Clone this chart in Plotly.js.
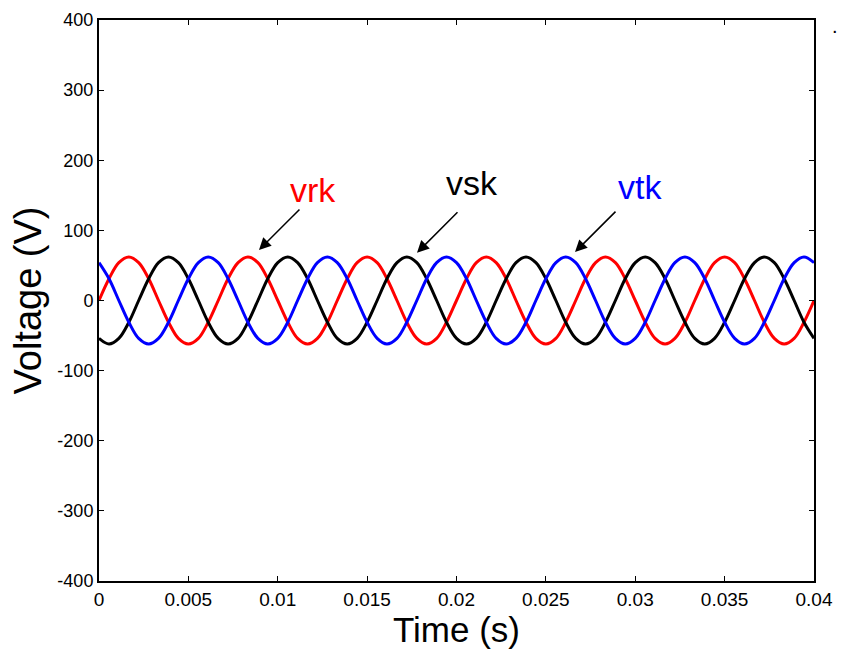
<!DOCTYPE html>
<html>
<head>
<meta charset="utf-8">
<script src="https://cdn.plot.ly/plotly-3.0.1.min.js"></script>
<style>html,body{margin:0;padding:0;background:#fff;}#chart{width:841px;height:659px;}</style>
</head>
<body>
<div id="chart"></div>
<script>
// Time samples (s)
const time = [0, 0.00056, 0.00111, 0.00167, 0.00222, 0.00278, 0.00333, 0.00389, 0.00444, 0.005, 0.00556, 0.00611,
  0.00667, 0.00722, 0.00778, 0.00833, 0.00889, 0.00944, 0.01, 0.01056, 0.01111, 0.01167, 0.01222, 0.01278,
  0.01333, 0.01389, 0.01444, 0.015, 0.01556, 0.01611, 0.01667, 0.01722, 0.01778, 0.01833, 0.01889, 0.01944,
  0.02, 0.02056, 0.02111, 0.02167, 0.02222, 0.02278, 0.02333, 0.02389, 0.02444, 0.025, 0.02556, 0.02611,
  0.02667, 0.02722, 0.02778, 0.02833, 0.02889, 0.02944, 0.03, 0.03056, 0.03111, 0.03167, 0.03222, 0.03278,
  0.03333, 0.03389, 0.03444, 0.035, 0.03556, 0.03611, 0.03667, 0.03722, 0.03778, 0.03833, 0.03889, 0.03944, 0.04];

// Phase voltages (V)
const vrk = [0, 31, 54, 62, 54, 31, 0, -31, -54, -62, -54, -31,
  0, 31, 54, 62, 54, 31, 0, -31, -54, -62, -54, -31,
  0, 31, 54, 62, 54, 31, 0, -31, -54, -62, -54, -31,
  0, 31, 54, 62, 54, 31, 0, -31, -54, -62, -54, -31,
  0, 31, 54, 62, 54, 31, 0, -31, -54, -62, -54, -31,
  0, 31, 54, 62, 54, 31, 0, -31, -54, -62, -54, -31, 0];
const vsk = [-54, -62, -54, -31, 0, 31, 54, 62, 54, 31, 0, -31,
  -54, -62, -54, -31, 0, 31, 54, 62, 54, 31, 0, -31,
  -54, -62, -54, -31, 0, 31, 54, 62, 54, 31, 0, -31,
  -54, -62, -54, -31, 0, 31, 54, 62, 54, 31, 0, -31,
  -54, -62, -54, -31, 0, 31, 54, 62, 54, 31, 0, -31,
  -54, -62, -54, -31, 0, 31, 54, 62, 54, 31, 0, -31, -54];
const vtk = [54, 31, 0, -31, -54, -62, -54, -31, 0, 31, 54, 62,
  54, 31, 0, -31, -54, -62, -54, -31, 0, 31, 54, 62,
  54, 31, 0, -31, -54, -62, -54, -31, 0, 31, 54, 62,
  54, 31, 0, -31, -54, -62, -54, -31, 0, 31, 54, 62,
  54, 31, 0, -31, -54, -62, -54, -31, 0, 31, 54, 62,
  54, 31, 0, -31, -54, -62, -54, -31, 0, 31, 54, 62, 54];

// Tick labels
const xTickVals = [0, 0.005, 0.01, 0.015, 0.02, 0.025, 0.03, 0.035, 0.04];
const xTickText = ['0', '0.005', '0.01', '0.015', '0.02', '0.025', '0.03', '0.035', '0.04'];
const yTickVals = [-400, -300, -200, -100, 0, 100, 200, 300, 400];
const yTickText = ['-400', '-300', '-200', '-100', '0', '100', '200', '300', '400'];

// Labels: name, colour, label position, arrow target
const labelNames = ['vrk', 'vsk', 'vtk'];
const labelColors = ['#ff0000', '#000000', '#0000ff'];
const labelX = [0.01197, 0.02087, 0.03027];
const labelY = [158, 168, 162];
const arrowX = [0.00895, 0.01779, 0.02663];
const arrowY = [72, 68, 69];

const FONT = 'Arial, "Liberation Sans", sans-serif';

const series = [vrk, vsk, vtk];
const traces = series.map((v, i) => ({
  x: time, y: v, type: 'scatter', mode: 'lines',
  line: {color: labelColors[i], width: 3, shape: 'spline'},
  showlegend: false, hoverinfo: 'skip'
}));

const annotations = [];
labelNames.forEach((n, i) => {
  annotations.push({
    x: labelX[i], y: labelY[i], xref: 'x', yref: 'y', text: n, showarrow: false,
    font: {family: FONT, size: 34, color: labelColors[i]}
  });
  annotations.push({
    x: arrowX[i], y: arrowY[i], xref: 'x', yref: 'y', text: '', showarrow: true,
    ax: 42, ay: -42, axref: 'pixel', ayref: 'pixel',
    arrowhead: 2, arrowsize: 1.6, arrowwidth: 1.5, arrowcolor: '#000', standoff: 0, startstandoff: 0
  });
});
annotations.push({x: 1.03, y: 1.012, xref: 'paper', yref: 'paper', xanchor: 'center', text: '.', showarrow: false,
  font: {family: FONT, size: 20, color: '#000'}});

const axisCommon = {
  showgrid: false, zeroline: false, showline: true, linecolor: '#000', linewidth: 2,
  mirror: 'ticks', ticks: 'inside', ticklen: 5, tickwidth: 1, tickcolor: '#000'
};

const layout = {
  width: 841, height: 659,
  margin: {l: 99, r: 27, t: 20, b: 78},
  paper_bgcolor: '#fff', plot_bgcolor: '#fff',
  font: {family: FONT, color: '#000'},
  xaxis: Object.assign({}, axisCommon, {
    range: [0, 0.04], tickvals: xTickVals, ticktext: xTickText,
    tickfont: {family: FONT, size: 19, color: '#000'},
    title: {text: 'Time (s)', font: {family: FONT, size: 35, color: '#000'}, standoff: 6}
  }),
  yaxis: Object.assign({}, axisCommon, {
    range: [-400, 400], tickvals: yTickVals, ticktext: yTickText,
    tickfont: {family: FONT, size: 18, color: '#000'},
    title: {text: 'Voltage (V)', font: {family: FONT, size: 38, color: '#000'}, standoff: 4}
  }),
  annotations: annotations
};

Plotly.newPlot('chart', traces, layout, {displayModeBar: false, staticPlot: true});
</script>
</body>
</html>
